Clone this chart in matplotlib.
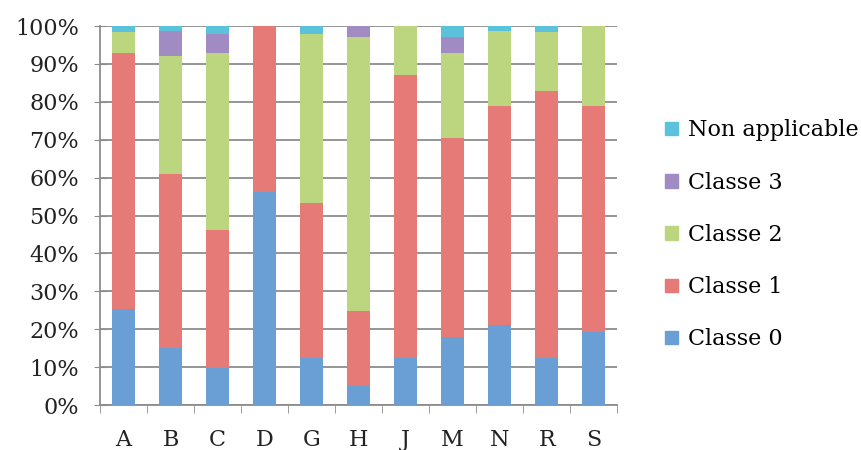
import numpy as np
import matplotlib.pyplot as plt
from matplotlib.ticker import FuncFormatter, MultipleLocator, FixedLocator
from matplotlib.patches import Patch

plt.rcParams['font.family'] = 'DejaVu Serif'
plt.rcParams['font.size'] = 16

categories = ["A", "B", "C", "D", "G", "H", "J", "M", "N", "R", "S"]

# percentages per class
classe0 = [25.3, 15.0, 9.8, 56.1, 12.3, 5.0, 12.3, 18.0, 21.2, 12.3, 19.3]
classe1 = [67.7, 46.0, 36.4, 43.9, 41.1, 19.8, 74.7, 52.5, 57.8, 70.7, 59.7]
classe2 = [5.5, 31.0, 46.8, 0.0, 44.4, 72.4, 13.0, 22.5, 19.7, 15.5, 21.0]
classe3 = [0.0, 6.7, 4.8, 0.0, 0.0, 2.8, 0.0, 4.0, 0.0, 0.0, 0.0]
non_applicable = [1.5, 1.3, 2.2, 0.0, 2.2, 0.0, 0.0, 3.0, 1.3, 1.5, 0.0]

series = [
    ("Classe 0", classe0, "#6a9fd6"),
    ("Classe 1", classe1, "#e57a76"),
    ("Classe 2", classe2, "#bcd67f"),
    ("Classe 3", classe3, "#a08bc2"),
    ("Non applicable", non_applicable, "#5cc2dc"),
]

fig = plt.figure(figsize=(8.62, 4.5), dpi=100)
ax = fig.add_axes([0.116, 0.1, 0.600, 0.842])

x = np.arange(len(categories))
bottom = np.zeros(len(categories))
for name, vals, col in series:
    vals = np.array(vals)
    ax.bar(x, vals, 0.5, bottom=bottom, color=col, label=name, zorder=3)
    bottom += vals

ax.set_ylim(0, 100)
ax.set_xlim(-0.5, len(categories) - 0.5)
ax.yaxis.set_major_locator(MultipleLocator(10))
ax.yaxis.set_major_formatter(FuncFormatter(lambda v, p: f"{int(v)}%"))
ax.grid(axis='y', color='#8c8c8c', linewidth=1.3, zorder=0)

ax.set_xticks(x)
ax.set_xticklabels(categories)
ax.xaxis.set_minor_locator(FixedLocator(np.arange(-0.5, len(categories), 1.0)))
ax.tick_params(axis='x', which='major', length=0, pad=17)
ax.tick_params(axis='x', which='minor', length=6, color='#8c8c8c', direction='out')
ax.tick_params(axis='y', length=8, color='#8c8c8c', direction='inout', pad=11)
ax.tick_params(labelcolor='#222222')

for s in ['top', 'right']:
    ax.spines[s].set_visible(False)
for s in ['left', 'bottom']:
    ax.spines[s].set_color('#8c8c8c')
    ax.spines[s].set_linewidth(1.3)

handles = [Patch(color=c, label=n) for n, _, c in series][::-1]
fig.legend(handles=handles, loc='center left', bbox_to_anchor=(0.772, 0.478),
           frameon=False, handlelength=0.55, handleheight=0.55,
           handletextpad=0.45, labelspacing=1.36, fontsize=16, borderpad=0,
           borderaxespad=0)

fig.savefig("out.png", dpi=100)
